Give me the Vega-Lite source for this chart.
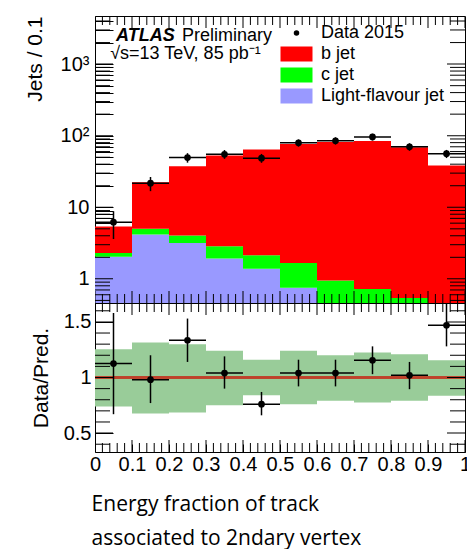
{
  "$schema": "https://vega.github.io/schema/vega-lite/v6.json",
  "padding": {"left": 23, "top": 10, "right": 0, "bottom": 0},
  "background": "white",
  "datasets": {
    "hist": [
      {"x0": 0.0, "x1": 0.1, "flav": "Light-flavour jet", "lo": 0.1, "hi": 2.03},
      {"x0": 0.0, "x1": 0.1, "flav": "c jet", "lo": 2.03, "hi": 2.3},
      {"x0": 0.0, "x1": 0.1, "flav": "b jet", "lo": 2.3, "hi": 5.4},
      {"x0": 0.1, "x1": 0.2, "flav": "Light-flavour jet", "lo": 0.1, "hi": 4.15},
      {"x0": 0.1, "x1": 0.2, "flav": "c jet", "lo": 4.15, "hi": 5.0},
      {"x0": 0.1, "x1": 0.2, "flav": "b jet", "lo": 5.0, "hi": 22.4},
      {"x0": 0.2, "x1": 0.3, "flav": "Light-flavour jet", "lo": 0.1, "hi": 3.18},
      {"x0": 0.2, "x1": 0.3, "flav": "c jet", "lo": 3.18, "hi": 4.03},
      {"x0": 0.2, "x1": 0.3, "flav": "b jet", "lo": 4.03, "hi": 37.5},
      {"x0": 0.3, "x1": 0.4, "flav": "Light-flavour jet", "lo": 0.1, "hi": 1.92},
      {"x0": 0.3, "x1": 0.4, "flav": "c jet", "lo": 1.92, "hi": 2.86},
      {"x0": 0.3, "x1": 0.4, "flav": "b jet", "lo": 2.86, "hi": 53},
      {"x0": 0.4, "x1": 0.5, "flav": "Light-flavour jet", "lo": 0.1, "hi": 1.38},
      {"x0": 0.4, "x1": 0.5, "flav": "c jet", "lo": 1.38, "hi": 2.14},
      {"x0": 0.4, "x1": 0.5, "flav": "b jet", "lo": 2.14, "hi": 64},
      {"x0": 0.5, "x1": 0.6, "flav": "Light-flavour jet", "lo": 0.1, "hi": 0.75},
      {"x0": 0.5, "x1": 0.6, "flav": "c jet", "lo": 0.75, "hi": 1.67},
      {"x0": 0.5, "x1": 0.6, "flav": "b jet", "lo": 1.67, "hi": 76.5},
      {"x0": 0.6, "x1": 0.7, "flav": "Light-flavour jet", "lo": 0.1, "hi": 0.3},
      {"x0": 0.6, "x1": 0.7, "flav": "c jet", "lo": 0.3, "hi": 0.95},
      {"x0": 0.6, "x1": 0.7, "flav": "b jet", "lo": 0.95, "hi": 81.5},
      {"x0": 0.7, "x1": 0.8, "flav": "Light-flavour jet", "lo": 0.1, "hi": 0.2},
      {"x0": 0.7, "x1": 0.8, "flav": "c jet", "lo": 0.2, "hi": 0.72},
      {"x0": 0.7, "x1": 0.8, "flav": "b jet", "lo": 0.72, "hi": 84},
      {"x0": 0.8, "x1": 0.9, "flav": "Light-flavour jet", "lo": 0.1, "hi": 0.15},
      {"x0": 0.8, "x1": 0.9, "flav": "c jet", "lo": 0.15, "hi": 0.54},
      {"x0": 0.8, "x1": 0.9, "flav": "b jet", "lo": 0.54, "hi": 69},
      {"x0": 0.9, "x1": 1.0, "flav": "Light-flavour jet", "lo": 0.05, "hi": 0.1},
      {"x0": 0.9, "x1": 1.0, "flav": "c jet", "lo": 0.1, "hi": 0.35},
      {"x0": 0.9, "x1": 1.0, "flav": "b jet", "lo": 0.35, "hi": 38.2}
    ],
    "pts": [
      {"x0": 0.0, "x1": 0.1, "xc": 0.05, "v": 6.2, "elo": 3.6, "ehi": 8.8},
      {"x0": 0.1, "x1": 0.2, "xc": 0.15, "v": 21.7, "elo": 16.8, "ehi": 26.5},
      {"x0": 0.2, "x1": 0.3, "xc": 0.25, "v": 49.4, "elo": 42, "ehi": 57},
      {"x0": 0.3, "x1": 0.4, "xc": 0.35, "v": 55, "elo": 47.5, "ehi": 63},
      {"x0": 0.4, "x1": 0.5, "xc": 0.45, "v": 48.5, "elo": 41.8, "ehi": 55.6},
      {"x0": 0.5, "x1": 0.6, "xc": 0.55, "v": 79.5, "elo": 70.3, "ehi": 88.6},
      {"x0": 0.6, "x1": 0.7, "xc": 0.65, "v": 85, "elo": 75, "ehi": 95},
      {"x0": 0.7, "x1": 0.8, "xc": 0.75, "v": 96, "elo": 85.5, "ehi": 106.5},
      {"x0": 0.8, "x1": 0.9, "xc": 0.85, "v": 70, "elo": 61.6, "ehi": 78.4},
      {"x0": 0.9, "x1": 1.0, "xc": 0.95, "v": 56, "elo": 48.7, "ehi": 63.3}
    ],
    "ratio": [
      {"x0": 0.0, "x1": 0.1, "xc": 0.05, "r": 1.125, "rlo": 0.67, "rhi": 1.58, "blo": 0.74, "bhi": 1.255},
      {"x0": 0.1, "x1": 0.2, "xc": 0.15, "r": 0.98, "rlo": 0.77, "rhi": 1.2, "blo": 0.677, "bhi": 1.315},
      {"x0": 0.2, "x1": 0.3, "xc": 0.25, "r": 1.335, "rlo": 1.14, "rhi": 1.53, "blo": 0.685, "bhi": 1.3},
      {"x0": 0.3, "x1": 0.4, "xc": 0.35, "r": 1.04, "rlo": 0.9, "rhi": 1.19, "blo": 0.75, "bhi": 1.24},
      {"x0": 0.4, "x1": 0.5, "xc": 0.45, "r": 0.76, "rlo": 0.66, "rhi": 0.87, "blo": 0.84, "bhi": 1.16},
      {"x0": 0.5, "x1": 0.6, "xc": 0.55, "r": 1.04, "rlo": 0.92, "rhi": 1.16, "blo": 0.76, "bhi": 1.24},
      {"x0": 0.6, "x1": 0.7, "xc": 0.65, "r": 1.04, "rlo": 0.92, "rhi": 1.16, "blo": 0.79, "bhi": 1.2},
      {"x0": 0.7, "x1": 0.8, "xc": 0.75, "r": 1.155, "rlo": 1.03, "rhi": 1.28, "blo": 0.775, "bhi": 1.225},
      {"x0": 0.8, "x1": 0.9, "xc": 0.85, "r": 1.02, "rlo": 0.895, "rhi": 1.14, "blo": 0.79, "bhi": 1.21},
      {"x0": 0.9, "x1": 1.0, "xc": 0.95, "r": 1.47, "rlo": 1.28, "rhi": 1.7, "blo": 0.835, "bhi": 1.155}
    ],
    "ytop": [
      {"v": 0.5, "k": "ymin"}, {"v": 0.6, "k": "ymin"}, {"v": 0.7, "k": "ymin"}, {"v": 0.8, "k": "ymin"}, {"v": 0.9, "k": "ymin"},
      {"v": 1, "k": "ymaj"},
      {"v": 2, "k": "ymin"}, {"v": 3, "k": "ymin"}, {"v": 4, "k": "ymin"}, {"v": 5, "k": "ymin"}, {"v": 6, "k": "ymin"}, {"v": 7, "k": "ymin"}, {"v": 8, "k": "ymin"}, {"v": 9, "k": "ymin"},
      {"v": 10, "k": "ymaj"},
      {"v": 20, "k": "ymin"}, {"v": 30, "k": "ymin"}, {"v": 40, "k": "ymin"}, {"v": 50, "k": "ymin"}, {"v": 60, "k": "ymin"}, {"v": 70, "k": "ymin"}, {"v": 80, "k": "ymin"}, {"v": 90, "k": "ymin"},
      {"v": 100, "k": "ymaj"},
      {"v": 200, "k": "ymin"}, {"v": 300, "k": "ymin"}, {"v": 400, "k": "ymin"}, {"v": 500, "k": "ymin"}, {"v": 600, "k": "ymin"}, {"v": 700, "k": "ymin"}, {"v": 800, "k": "ymin"}, {"v": 900, "k": "ymin"},
      {"v": 1000, "k": "ymaj"},
      {"v": 2000, "k": "ymin"}, {"v": 3000, "k": "ymin"}, {"v": 4000, "k": "ymin"}
    ],
    "yrat": [
      {"v": 0.4, "k": "ymin"}, {"v": 0.5, "k": "ymaj"}, {"v": 0.6, "k": "ymin"}, {"v": 0.7, "k": "ymin"}, {"v": 0.8, "k": "ymin"}, {"v": 0.9, "k": "ymin"},
      {"v": 1, "k": "ymaj"}, {"v": 1.1, "k": "ymin"}, {"v": 1.2, "k": "ymin"}, {"v": 1.3, "k": "ymin"}, {"v": 1.4, "k": "ymin"}, {"v": 1.5, "k": "ymaj"}, {"v": 1.6, "k": "ymin"}
    ],
    "xt": [
      {"v": 0, "k": "xmaj"}, {"v": 0.02, "k": "xmin"}, {"v": 0.04, "k": "xmin"}, {"v": 0.06, "k": "xmin"}, {"v": 0.08, "k": "xmin"},
      {"v": 0.1, "k": "xmaj"}, {"v": 0.12, "k": "xmin"}, {"v": 0.14, "k": "xmin"}, {"v": 0.16, "k": "xmin"}, {"v": 0.18, "k": "xmin"},
      {"v": 0.2, "k": "xmaj"}, {"v": 0.22, "k": "xmin"}, {"v": 0.24, "k": "xmin"}, {"v": 0.26, "k": "xmin"}, {"v": 0.28, "k": "xmin"},
      {"v": 0.3, "k": "xmaj"}, {"v": 0.32, "k": "xmin"}, {"v": 0.34, "k": "xmin"}, {"v": 0.36, "k": "xmin"}, {"v": 0.38, "k": "xmin"},
      {"v": 0.4, "k": "xmaj"}, {"v": 0.42, "k": "xmin"}, {"v": 0.44, "k": "xmin"}, {"v": 0.46, "k": "xmin"}, {"v": 0.48, "k": "xmin"},
      {"v": 0.5, "k": "xmaj"}, {"v": 0.52, "k": "xmin"}, {"v": 0.54, "k": "xmin"}, {"v": 0.56, "k": "xmin"}, {"v": 0.58, "k": "xmin"},
      {"v": 0.6, "k": "xmaj"}, {"v": 0.62, "k": "xmin"}, {"v": 0.64, "k": "xmin"}, {"v": 0.66, "k": "xmin"}, {"v": 0.68, "k": "xmin"},
      {"v": 0.7, "k": "xmaj"}, {"v": 0.72, "k": "xmin"}, {"v": 0.74, "k": "xmin"}, {"v": 0.76, "k": "xmin"}, {"v": 0.78, "k": "xmin"},
      {"v": 0.8, "k": "xmaj"}, {"v": 0.82, "k": "xmin"}, {"v": 0.84, "k": "xmin"}, {"v": 0.86, "k": "xmin"}, {"v": 0.88, "k": "xmin"},
      {"v": 0.9, "k": "xmaj"}, {"v": 0.92, "k": "xmin"}, {"v": 0.94, "k": "xmin"}, {"v": 0.96, "k": "xmin"}, {"v": 0.98, "k": "xmin"},
      {"v": 1, "k": "xmaj"}
    ]
  },
  "title": {
    "text": ["Energy fraction of track", "associated to 2ndary vertex"],
    "orient": "bottom",
    "anchor": "start",
    "font": "Open Sans",
    "fontSize": 21,
    "fontWeight": "normal",
    "color": "black",
    "lineHeight": 34,
    "offset": 19,
    "dx": 68
  },
  "spacing": 0,
  "bounds": "flush",
  "resolve": {"legend": {"color": "independent"}},
  "vconcat": [
    {
      "width": 370,
      "height": 287,
      "layer": [
        {
          "data": {"name": "hist"},
          "mark": {"type": "rect", "clip": true},
          "encoding": {
            "x": {"field": "x0", "type": "quantitative", "scale": {"domain": [0, 1], "nice": false},
              "axis": {"orient": "bottom", "labels": false, "title": null, "offset": -9,
                "values": [0,0.1,0.2,0.3,0.4,0.5,0.6,0.7,0.8,0.9,1],
                "tickSize": 9}},
            "x2": {"field": "x1"},
            "y": {"field": "lo", "type": "quantitative", "scale": {"type": "log", "domain": [0.46, 4700], "nice": false},
              "axis": {"orient": "left", "title": "Jets / 0.1", "titleAnchor": "end", "titlePadding": 15, "offset": -18,
                "values": [0.5,0.6,0.7,0.8,0.9,1,2,3,4,5,6,7,8,9,10,20,30,40,50,60,70,80,90,100,200,300,400,500,600,700,800,900,1000,2000,3000,4000],
                "labelExpr": "datum.value==1?'1':datum.value==10?'10':datum.value==100?'10²':datum.value==1000?'10³':''",
                "labelPadding": 6,
                "tickSize": 18}},
            "y2": {"field": "hi"},
            "color": {"field": "flav", "type": "nominal",
              "scale": {"domain": ["Data 2015", "b jet", "c jet", "Light-flavour jet"], "range": ["black", "#ff0000", "#00ff00", "#9999ff"]},
              "legend": {"orient": "none", "legendX": 192.5, "legendY": 8, "title": null, "padding": 0,
                "labelFont": "Liberation Sans", "labelFontSize": 18, "labelColor": "black", "labelOffset": 15.5,
                "symbolType": "M-2.133,-1H2.133V1H-2.133Z", "symbolSize": 225, "symbolStrokeWidth": 0, "symbolOpacity": 1,
                "rowPadding": 3,
                "encode": {"symbols": {"update": {
                  "shape": {"signal": "datum.value==='Data 2015' ? 'circle' : 'M-2.133,-1H2.133V1H-2.133Z'"},
                  "size": {"signal": "datum.value==='Data 2015' ? 30 : 225"}}}}}}
          }
        },
        {
          "data": {"name": "pts"},
          "mark": {"type": "rule", "color": "black", "strokeWidth": 1.5},
          "encoding": {
            "x": {"field": "x0", "type": "quantitative", "axis": null},
            "x2": {"field": "x1"},
            "y": {"field": "v", "type": "quantitative", "axis": null}
          }
        },
        {
          "data": {"name": "pts"},
          "mark": {"type": "rule", "color": "black", "strokeWidth": 1.5, "clip": true},
          "encoding": {
            "x": {"field": "xc", "type": "quantitative", "axis": null},
            "y": {"field": "elo", "type": "quantitative", "axis": null},
            "y2": {"field": "ehi"}
          }
        },
        {
          "data": {"name": "pts"},
          "mark": {"type": "circle", "color": "black", "opacity": 1, "size": 45},
          "encoding": {
            "x": {"field": "xc", "type": "quantitative", "axis": null},
            "y": {"field": "v", "type": "quantitative", "axis": null}
          }
        },
        {
          "data": {"name": "ytop"},
          "mark": {"type": "tick", "orient": "horizontal", "thickness": 1, "color": "black", "opacity": 1, "clip": true},
          "encoding": {
            "y": {"field": "v", "type": "quantitative", "axis": null},
            "x": {"datum": 0, "type": "quantitative", "axis": null},
            "size": {"field": "k", "type": "ordinal", "scale": {"domain": ["ymaj", "ymin", "xmaj", "xmin"], "range": [36, 18, 18, 10]}, "legend": null}
          }
        },
        {
          "data": {"name": "ytop"},
          "mark": {"type": "tick", "orient": "horizontal", "thickness": 1, "color": "black", "opacity": 1, "clip": true},
          "encoding": {
            "y": {"field": "v", "type": "quantitative", "axis": null},
            "x": {"datum": 1, "type": "quantitative", "axis": null},
            "size": {"field": "k", "type": "ordinal", "scale": {"domain": ["ymaj", "ymin", "xmaj", "xmin"], "range": [36, 18, 18, 10]}, "legend": null}
          }
        },
        {
          "data": {"name": "xt"},
          "mark": {"type": "tick", "orient": "vertical", "thickness": 1, "color": "black", "opacity": 1, "clip": true},
          "encoding": {
            "x": {"field": "v", "type": "quantitative", "axis": null},
            "y": {"datum": 0.46, "type": "quantitative", "axis": null},
            "size": {"field": "k", "type": "ordinal", "scale": {"domain": ["ymaj", "ymin", "xmaj", "xmin"], "range": [36, 18, 18, 10]}, "legend": null}
          }
        },
        {
          "data": {"name": "xt"},
          "mark": {"type": "tick", "orient": "vertical", "thickness": 1, "color": "black", "opacity": 1, "clip": true},
          "encoding": {
            "x": {"field": "v", "type": "quantitative", "axis": null},
            "y": {"datum": 4700, "type": "quantitative", "axis": null},
            "size": {"field": "k", "type": "ordinal", "scale": {"domain": ["ymaj", "ymin", "xmaj", "xmin"], "range": [36, 18, 18, 10]}, "legend": null}
          }
        },
        {
          "data": {"values": [{}]},
          "mark": {"type": "text", "align": "left", "baseline": "middle", "font": "Liberation Sans", "fontSize": 18, "fontWeight": "bold", "fontStyle": "italic", "color": "black"},
          "encoding": {
            "x": {"datum": 0.057, "type": "quantitative", "axis": null},
            "y": {"datum": 2460, "type": "quantitative", "axis": null},
            "text": {"value": "ATLAS"}
          }
        },
        {
          "data": {"values": [{}]},
          "mark": {"type": "text", "align": "left", "baseline": "middle", "font": "Liberation Sans", "fontSize": 18, "color": "black"},
          "encoding": {
            "x": {"datum": 0.235, "type": "quantitative", "axis": null},
            "y": {"datum": 2460, "type": "quantitative", "axis": null},
            "text": {"value": "Preliminary"}
          }
        },
        {
          "data": {"values": [{}]},
          "mark": {"type": "text", "align": "left", "baseline": "middle", "font": "Liberation Sans", "fontSize": 18, "color": "black"},
          "encoding": {
            "x": {"datum": 0.041, "type": "quantitative", "axis": null},
            "y": {"datum": 1380, "type": "quantitative", "axis": null},
            "text": {"value": "√s=13 TeV, 85 pb⁻¹"}
          }
        }
      ],
      "resolve": {"axis": {"x": "independent", "y": "independent"}}
    },
    {
      "width": 370,
      "height": 149,
      "data": {"name": "ratio"},
      "layer": [
        {
          "mark": {"type": "rect", "color": "#99cc99", "opacity": 1},
          "encoding": {
            "x": {"field": "x0", "type": "quantitative", "scale": {"domain": [0, 1], "nice": false},
              "axis": {"orient": "bottom", "title": null, "labelPadding": 2, "offset": -8,
                "values": [0,0.1,0.2,0.3,0.4,0.5,0.6,0.7,0.8,0.9,1],
                "labelExpr": "datum.value==0?'0':datum.value==1?'1':format(datum.value,'.1f')",
                "tickSize": 8}},
            "x2": {"field": "x1"},
            "y": {"field": "blo", "type": "quantitative", "scale": {"domain": [0.33, 1.67], "nice": false, "zero": false},
              "axis": {"orient": "left", "title": "Data/Pred.", "titleAnchor": "middle", "titlePadding": 12, "labelPadding": 4, "offset": -18,
                "values": [0.5,1,1.5],
                "labelExpr": "datum.value==1?'1':format(datum.value,'.1f')",
                "tickSize": 18}},
            "y2": {"field": "bhi"}
          }
        },
        {
          "mark": {"type": "rule", "color": "#c0402a", "strokeWidth": 1.5},
          "encoding": {"y": {"datum": 1, "type": "quantitative", "axis": null}}
        },
        {
          "mark": {"type": "rule", "color": "black", "strokeWidth": 1.5},
          "encoding": {
            "x": {"field": "x0", "type": "quantitative", "axis": null},
            "x2": {"field": "x1"},
            "y": {"field": "r", "type": "quantitative", "axis": null}
          }
        },
        {
          "mark": {"type": "rule", "color": "black", "strokeWidth": 1.5, "clip": true},
          "encoding": {
            "x": {"field": "xc", "type": "quantitative", "axis": null},
            "y": {"field": "rlo", "type": "quantitative", "axis": null},
            "y2": {"field": "rhi"}
          }
        },
        {
          "mark": {"type": "circle", "color": "black", "opacity": 1, "size": 45},
          "encoding": {
            "x": {"field": "xc", "type": "quantitative", "axis": null},
            "y": {"field": "r", "type": "quantitative", "axis": null}
          }
        },
        {
          "data": {"name": "yrat"},
          "mark": {"type": "tick", "orient": "horizontal", "thickness": 1, "color": "black", "opacity": 1, "clip": true},
          "encoding": {
            "y": {"field": "v", "type": "quantitative", "axis": null},
            "x": {"datum": 0, "type": "quantitative", "axis": null},
            "size": {"field": "k", "type": "ordinal", "scale": {"domain": ["ymaj", "ymin", "xmaj", "xmin"], "range": [36, 18, 18, 10]}, "legend": null}
          }
        },
        {
          "data": {"name": "yrat"},
          "mark": {"type": "tick", "orient": "horizontal", "thickness": 1, "color": "black", "opacity": 1, "clip": true},
          "encoding": {
            "y": {"field": "v", "type": "quantitative", "axis": null},
            "x": {"datum": 1, "type": "quantitative", "axis": null},
            "size": {"field": "k", "type": "ordinal", "scale": {"domain": ["ymaj", "ymin", "xmaj", "xmin"], "range": [36, 18, 18, 10]}, "legend": null}
          }
        },
        {
          "data": {"name": "xt"},
          "mark": {"type": "tick", "orient": "vertical", "thickness": 1, "color": "black", "opacity": 1, "clip": true},
          "encoding": {
            "x": {"field": "v", "type": "quantitative", "axis": null},
            "y": {"datum": 0.33, "type": "quantitative", "axis": null},
            "size": {"field": "k", "type": "ordinal", "scale": {"domain": ["ymaj", "ymin", "xmaj", "xmin"], "range": [36, 18, 18, 10]}, "legend": null}
          }
        },
        {
          "data": {"name": "xt"},
          "mark": {"type": "tick", "orient": "vertical", "thickness": 1, "color": "black", "opacity": 1, "clip": true},
          "encoding": {
            "x": {"field": "v", "type": "quantitative", "axis": null},
            "y": {"datum": 1.67, "type": "quantitative", "axis": null},
            "size": {"field": "k", "type": "ordinal", "scale": {"domain": ["ymaj", "ymin", "xmaj", "xmin"], "range": [36, 18, 18, 10]}, "legend": null}
          }
        }
      ],
      "resolve": {"axis": {"x": "independent", "y": "independent"}}
    }
  ],
  "config": {
    "font": "Liberation Sans",
    "view": {"stroke": "black", "strokeWidth": 1},
    "axis": {"domain": false, "grid": false, "tickColor": "black", "tickWidth": 1,
      "labelFont": "Liberation Sans", "labelFontSize": 20, "labelColor": "black",
      "titleFont": "Liberation Sans", "titleFontSize": 21, "titleFontWeight": "normal", "titleColor": "black",
      "labelFlush": false, "labelOverlap": false},
    "legend": {"labelFont": "Liberation Sans"}
  }
}
